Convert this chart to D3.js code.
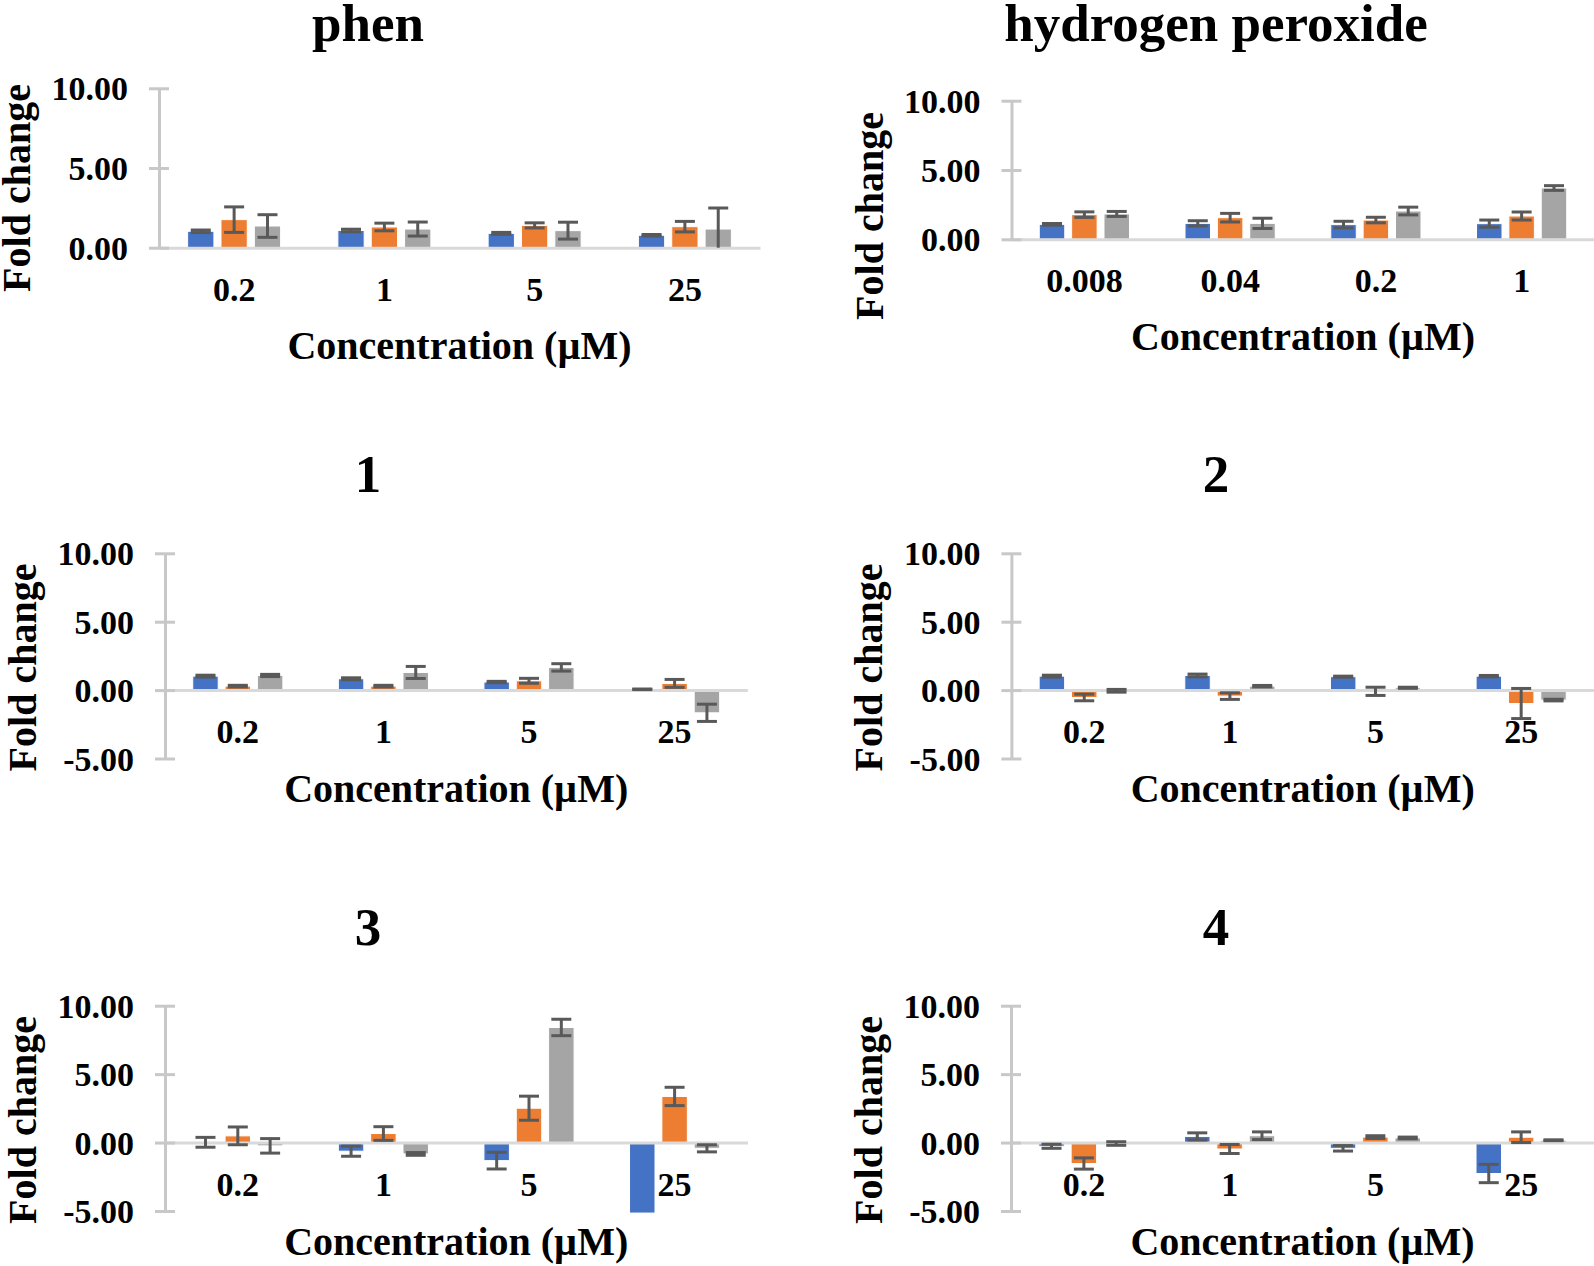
<!DOCTYPE html>
<html>
<head>
<meta charset="utf-8">
<script src="https://cdn.jsdelivr.net/npm/d3@7"></script>
<style>
  body { margin: 0; background: #fff; }
  svg { display: block; font-family: "Liberation Serif", "Times New Roman", serif; font-weight: bold; }
</style>
</head>
<body>
<div id="chart"></div>
<script>
// Concentration categories
const concMicroM = ['0.2', '1', '5', '25'];
const concPeroxide = ['0.008', '0.04', '0.2', '1'];

// Each row = one concentration, values = [blue, orange, gray] series
const phenMean = [[1.03, 1.76, 1.36], [1.08, 1.30, 1.17], [0.90, 1.40, 1.07], [0.78, 1.32, 1.17]];
const phenErr  = [[0.08, 0.80, 0.71], [0.08, 0.24, 0.44], [0.06, 0.16, 0.53], [0.05, 0.33, 1.32]];

const peroxideMean = [[1.08, 1.78, 1.83], [1.15, 1.56, 1.15], [1.06, 1.39, 2.04], [1.13, 1.68, 3.70]];
const peroxideErr  = [[0.06, 0.20, 0.18], [0.19, 0.31, 0.37], [0.24, 0.20, 0.28], [0.26, 0.29, 0.17]];

const cpd1Mean = [[1.02, 0.29, 1.07], [0.83, 0.29, 1.29], [0.59, 0.68, 1.66], [0.06, 0.49, -1.66]];
const cpd1Err  = [[0.07, 0.06, 0.08], [0.07, 0.06, 0.44], [0.05, 0.18, 0.27], [0.02, 0.29, 0.63]];

const cpd2Mean = [[1.02, -0.54, -0.05], [1.07, -0.44, 0.29], [0.98, -0.09, 0.17], [1.02, -0.98, -0.73]];
const cpd2Err  = [[0.07, 0.24, 0.10], [0.10, 0.24, 0.05], [0.04, 0.30, 0.04], [0.05, 1.10, 0.06]];

const cpd3Mean = [[0.02, 0.49, -0.24], [-0.63, 0.66, -0.83], [-1.32, 2.51, 8.41], [-5.15, 3.37, -0.42]];
const cpd3Err  = [[0.36, 0.65, 0.53], [0.37, 0.50, 0.10], [0.61, 0.88, 0.60], [0, 0.67, 0.26]];

const cpd4Mean = [[-0.27, -1.53, -0.07], [0.45, -0.47, 0.50], [-0.42, 0.40, 0.34], [-2.26, 0.39, 0.17]];
const cpd4Err  = [[0.15, 0.41, 0.13], [0.26, 0.33, 0.28], [0.20, 0.10, 0.06], [0.67, 0.39, 0.03]];

const positiveTicks = [0, 5, 10];
const fullTicks = [-5, 0, 5, 10];

const seriesColors = ['#4472C4', '#ED7D31', '#A5A5A5'];

// Panel layout (pixel boxes for each small chart)
const panels = [
    { title: 'phen', cats: concMicroM, mean: phenMean, err: phenErr, ticks: positiveTicks,
      box: { x0: 159, x1: 760, yTop: 88.3, yBottom: 247.7, titleX: 368, titleY: 41, xTitleY: 359, foldY: 188 } },
    { title: 'hydrogen peroxide', cats: concPeroxide, mean: peroxideMean, err: peroxideErr, ticks: positiveTicks,
      box: { x0: 1011.5, x1: 1594.5, yTop: 100.7, yBottom: 239.3, titleX: 1216, titleY: 41, xTitleY: 350, foldY: 216 } },
    { title: '1', cats: concMicroM, mean: cpd1Mean, err: cpd1Err, ticks: fullTicks,
      box: { x0: 165, x1: 747.4, yTop: 553.3, yBottom: 758.5, titleX: 368, titleY: 491.7, xTitleY: 801.7, foldY: 667.5 } },
    { title: '2', cats: concMicroM, mean: cpd2Mean, err: cpd2Err, ticks: fullTicks,
      box: { x0: 1011.4, x1: 1594, yTop: 553.3, yBottom: 758.5, titleX: 1216, titleY: 491.7, xTitleY: 801.7, foldY: 667.5 } },
    { title: '3', cats: concMicroM, mean: cpd3Mean, err: cpd3Err, ticks: fullTicks,
      box: { x0: 165, x1: 747.4, yTop: 1005.7, yBottom: 1211, titleX: 368, titleY: 945, xTitleY: 1254.5, foldY: 1120 } },
    { title: '4', cats: concMicroM, mean: cpd4Mean, err: cpd4Err, ticks: fullTicks,
      box: { x0: 1011, x1: 1594, yTop: 1005.7, yBottom: 1211, titleX: 1216, titleY: 945, xTitleY: 1254.5, foldY: 1120 } }
];

const W = 1594, H = 1266;
const fmt = d3.formatLocale({ decimal: '.', thousands: ',', grouping: [3], currency: ['', ''], minus: '-' }).format('.2f');

const svg = d3.select('#chart').append('svg')
    .attr('width', W)
    .attr('height', H);

svg.append('rect').attr('width', W).attr('height', H).attr('fill', '#fff');

panels.forEach(p => drawPanel(p));

function drawPanel(p) {
    const b = p.box;
    const g = svg.append('g');

    const yMin = d3.min(p.ticks), yMax = d3.max(p.ticks);
    const y = d3.scaleLinear().domain([yMin, yMax]).range([b.yBottom, b.yTop]);
    const x = d3.scaleBand().domain(p.cats).range([b.x0, b.x1]).paddingInner(0).paddingOuter(0);
    const xs = d3.scaleBand().domain([0, 1, 2]).range([0, x.bandwidth()])
        .paddingInner(0.212).paddingOuter(0.858);

    // Bars
    const flat = [];
    p.cats.forEach((c, i) => p.mean[i].forEach((m, s) => flat.push({ cat: c, s, m, e: p.err[i][s] })));

    g.append('g').selectAll('rect')
        .data(flat)
        .enter().append('rect')
        .attr('x', d => x(d.cat) + xs(d.s))
        .attr('width', xs.bandwidth())
        .attr('y', d => Math.min(y(0), y(d.m)))
        .attr('height', d => Math.abs(y(d.m) - y(0)))
        .attr('fill', d => seriesColors[d.s])
        .attr('stroke', '#fff')
        .attr('stroke-width', 1);

    // Zero line / category axis
    const xAxis = d3.axisBottom(x).tickSize(0).tickPadding(29);
    g.append('g')
        .attr('transform', `translate(0,${y(0)})`)
        .call(xAxis)
        .attr('font-family', null)
        .attr('font-size', null)
        .call(a => a.select('.domain').attr('stroke', '#d9d9d9').attr('stroke-width', 3))
        .call(a => a.selectAll('text')
            .attr('fill', '#000')
            .attr('font-size', 34)
            .attr('font-weight', 'bold'));

    // Error bars (clipped to the value axis range, like the original)
    const eb = g.append('g').attr('stroke', '#595959').attr('stroke-width', 3);
    const capHalf = 10;
    const clamp = v => Math.max(yMin, Math.min(yMax, v));
    flat.filter(d => d.e > 0).forEach(d => {
        const cx = x(d.cat) + xs(d.s) + xs.bandwidth() / 2;
        const lo = d.m - d.e, hi = d.m + d.e;
        eb.append('line').attr('x1', cx).attr('x2', cx).attr('y1', y(clamp(lo))).attr('y2', y(clamp(hi)));
        if (hi <= yMax) eb.append('line').attr('x1', cx - capHalf).attr('x2', cx + capHalf).attr('y1', y(hi)).attr('y2', y(hi));
        if (lo >= yMin) eb.append('line').attr('x1', cx - capHalf).attr('x2', cx + capHalf).attr('y1', y(lo)).attr('y2', y(lo));
    });

    // Value axis
    const yAxis = d3.axisLeft(y).tickValues(p.ticks).tickFormat(fmt)
        .tickSizeInner(10).tickSizeOuter(0).tickPadding(21);
    g.append('g')
        .attr('transform', `translate(${b.x0},0)`)
        .call(yAxis)
        .attr('font-family', null)
        .attr('font-size', null)
        .call(a => a.select('.domain').attr('stroke', '#c8c8c8').attr('stroke-width', 3))
        .call(a => a.selectAll('.tick line').attr('x1', 10).attr('stroke', '#c8c8c8').attr('stroke-width', 3))
        .call(a => a.selectAll('.tick text')
            .attr('fill', '#000')
            .attr('font-size', 34)
            .attr('font-weight', 'bold')
            .attr('dy', '0.34em'));

    // Titles
    g.append('text')
        .attr('x', b.titleX)
        .attr('y', b.titleY)
        .attr('text-anchor', 'middle')
        .attr('font-size', 53)
        .text(p.title);

    g.append('text')
        .attr('x', (b.x0 + b.x1) / 2)
        .attr('y', b.xTitleY)
        .attr('text-anchor', 'middle')
        .attr('font-size', 40)
        .text('Concentration (\u00B5M)');

    g.append('text')
        .attr('transform', `translate(${b.x0 - 129},${b.foldY}) rotate(-90)`)
        .attr('text-anchor', 'middle')
        .attr('font-size', 40)
        .text('Fold change');
}
</script>
</body>
</html>
